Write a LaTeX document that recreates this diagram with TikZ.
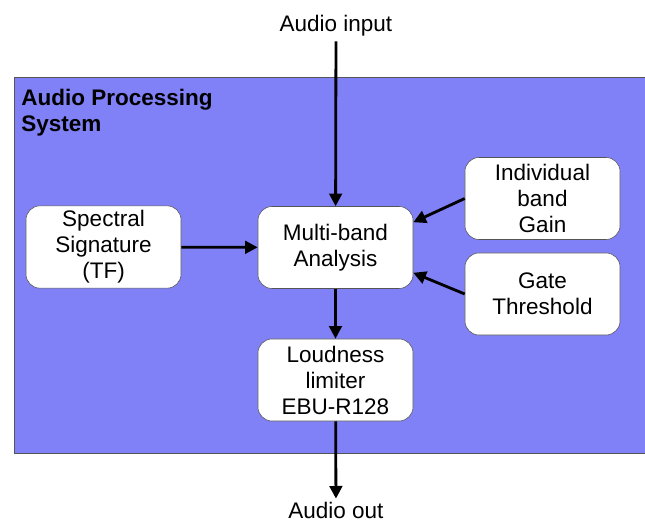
\documentclass[tikz,border=0pt]{standalone}
\usepackage{fontspec}
\setmainfont{Liberation Sans}
\usetikzlibrary{arrows.meta}

\definecolor{sysblue}{RGB}{128,128,247}
\definecolor{edgegray}{RGB}{85,85,85}

\tikzset{
  block/.style = {draw=edgegray, fill=white, rounded corners=10pt, align=center,
    minimum width=3.875cm, minimum height=2.05cm, font=\fontsize{16}{18.5}\selectfont},
  label/.style = {align=center, font=\fontsize{16}{18.5}\selectfont},
  flow/.style = {line width=2pt, -{Triangle[length=9pt,width=9pt]}}
}

\begin{document}
\begin{tikzpicture} [x=0.025cm, y=-0.025cm]
\useasboundingbox (0, 0) rectangle (645, 523);
\fill[sysblue] (14, 77) rectangle (645, 453);
\draw[edgegray] (645, 77) -- (14, 77) -- (14, 453) -- (645, 453);
\node[anchor=north west, align=left, inner sep=0pt, font=\fontsize{16}{18.5}\selectfont\bfseries] (title) at (21, 89){Audio Processing\\System};
\node[label] (ain) at (336, 26){Audio input};
\node[label, inner sep=2pt] (aout) at (336, 510){Audio out};
\node[block] (spec) at (103.5, 247){Spectral\\Signature\\(TF)};
\node[block] (mba) at (335.5, 247.5){Multi-band\\Analysis};
\node[block] (gain) at (542.5, 198.5){Individual\\band\\Gain};
\node[block] (gate) at (542.5, 294){Gate\\Threshold};
\node[block] (loud) at (335.5, 380){Loudness\\limiter\\EBU-R128};
\draw[flow] (ain) -- (mba);
\draw[flow] (spec) -- (mba);
\draw[flow] (gain.west) -- (mba.18);
\draw[flow] (gate.west) -- (mba.-18);
\draw[flow] (mba) -- (loud);
\draw[flow] (loud) -- (aout);
\end{tikzpicture}
\end{document}
